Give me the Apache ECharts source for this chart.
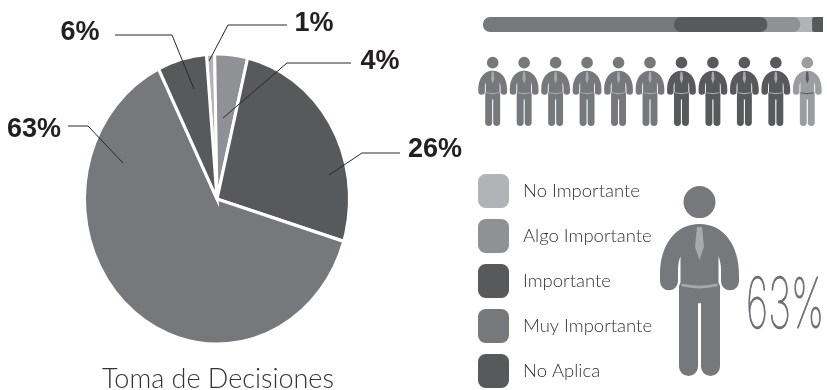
<!DOCTYPE html>
<html>
<head>
<meta charset="utf-8">
<style>html,body{margin:0;padding:0;background:#fff}#c{width:827px;height:390px}</style>
<script src="https://cdn.jsdelivr.net/npm/echarts@6/dist/echarts.min.js"></script>
</head>
<body>
<div id="c"></div>
<script>
// Categories, shared by the pie, the stacked strip and the legend
const categories = ['No Importante', 'Algo Importante', 'Importante', 'Muy Importante', 'No Aplica'];
const categoryColors = ['#b1b3b6', '#909194', '#58595b', '#77787b', '#58595b'];

// Pie shares, clockwise, in percent
const pieValues = [1, 4, 26, 63, 6];
const pieStartDeg = 355.4;

// Widths of the strip along the top, in percent of its length
const stripOrder = ['Muy Importante', 'Importante', 'Algo Importante', 'No Importante', 'No Aplica'];
const stripValues = [56.2, 27.4, 9.7, 3.5, 3.2];

// Row of figures: how many figures are drawn in which category
const figureRow = [['Muy Importante', 6], ['Importante', 4], ['No Importante', 1]];
const headlineValue = '63%';

// Leader lines and label spots of the pie
const leaders = [
  { line: [[287, 25], [228, 25], [209, 61]], text: [314, 24] },
  { line: [[351, 63], [287, 63], [223, 118]], text: [380, 62] },
  { line: [[400, 153], [362, 153], [329, 175]], text: [435, 150] },
  { line: [[68, 126], [88, 126], [123, 163]], text: [34, 130] },
  { line: [[115, 35], [172, 35], [194, 89]], text: [80, 33] }
];

const PERSON = 'path://M39.5 0a16 16 0 1 0 .01 0zM39.5 38C16 38 0 58 0 89L0 95A9 9 0 0 0 18 95L18 84C18 78 19 74 20.5 70L20.5 96L19 100L19 180A9.5 9.5 0 0 0 38 180L38 117L41 117L41 180A9.5 9.5 0 0 0 60 180L60 100L58.5 96L58.5 70C60 74 61 78 61 84L61 95A9 9 0 0 0 79 95L79 89C79 58 63 38 39.5 38z';
const TIE = 'path://M2 0L7 0L9 20L4.5 33L0 20z';
const BELT = 'path://M0 0Q18 3 36 0L36 2Q18 5 0 2z';

const colorOf = name => categoryColors[categories.indexOf(name)];
const cum = [];
pieValues.reduce((a, v, i) => (cum[i] = a + v * 3.6, cum[i]), pieStartDeg);
const rad = d => (d - 90) * Math.PI / 180;

const PX = 217, PY = 199, RX = 132.5, KY = 1.095;

function renderSlice(params, api) {
  const i = params.dataIndex;
  const v = api.value(0);
  const end = cum[i], start = end - v * 3.6;
  const l = leaders[i];
  return {
    type: 'group',
    children: [
      { type: 'sector', x: PX, y: PY, scaleY: KY,
        shape: { cx: 0, cy: 0, r0: 0, r: RX, startAngle: rad(start), endAngle: rad(end), clockwise: true },
        style: { fill: categoryColors[i], stroke: '#fff', lineWidth: 3, lineJoin: 'miter' } },
      { type: 'polyline', z2: 50, shape: { points: l.line }, style: { fill: null, stroke: '#2b2829', lineWidth: 1 } },
      { type: 'text', z2: 50, x: l.text[0], y: l.text[1],
        style: { text: v + '%', fill: '#231f20', font: 'bold 27px "Liberation Sans"', align: 'center', verticalAlign: 'middle' } }
    ]
  };
}

// Stacking of the strip pieces: rounded ends sit on the neighbouring colour
const stripZ = { 'Muy Importante': 5, 'No Importante': 5, 'Algo Importante': 6, 'No Aplica': 6, 'Importante': 7 };

// Each strip segment is one series, so the legend can list it by name
function stripSeries(name, i) {
  const start = stripValues.slice(0, i).reduce((a, b) => a + b, 0);
  const end = start + stripValues[i];
  return {
    name, type: 'custom', xAxisIndex: 0, yAxisIndex: 0, z: stripZ[name],
    itemStyle: { color: colorOf(name) },
    data: [[start, end]],
    renderItem(p, api) {
      const a = api.coord([api.value(0), 0.5]);
      const b = api.coord([api.value(1), 0.5]);
      const h = api.size([0, 1])[1];
      const x0 = (name === 'Algo Importante' || name === 'No Importante') ? a[0] - 10 : a[0];
      const x1 = name === 'Muy Importante' ? b[0] + 10 : (name === 'No Importante' ? b[0] + 3 : b[0]);
      const radii = { 'Muy Importante': [7, 0, 0, 7], 'Importante': 7, 'Algo Importante': [0, 7, 7, 0], 'No Aplica': [2, 0, 0, 2], 'No Importante': 0 };
      return {
        type: 'rect',
        shape: { x: x0, y: a[1] - h / 2, width: x1 - x0, height: h, r: radii[name] },
        style: { fill: colorOf(name) }
      };
    }
  };
}

// One figure layered from a body, a tie and a belt
function figureSeries(xi, yi, points, scale, suffix) {
  const w = 79 * scale, h = 190 * scale;
  const base = { type: 'scatter', xAxisIndex: xi, yAxisIndex: yi, silent: true, animation: false, z: 3 };
  const accent = points.map(p => ({ value: p.value, itemStyle: { color: p.tie, opacity: 1 } }));
  return [
    { ...base, name: 'figure' + suffix, symbol: PERSON, symbolSize: [w, h], data: points },
    { ...base, name: 'tie' + suffix, symbol: TIE, symbolSize: [9 * scale, 33 * scale], symbolOffset: [0, -37.5 * scale], z: 4, data: accent },
    { ...base, name: 'belt' + suffix, symbol: BELT, symbolSize: [36 * scale, 5 * scale], symbolOffset: [0, 5 * scale], z: 4, data: accent }
  ];
}

const rowPoints = [];
figureRow.forEach(([name, n]) => {
  for (let k = 0; k < n; k++) {
    const odd = name === 'No Importante';
    rowPoints.push({ value: [rowPoints.length, 0.5], itemStyle: { color: odd ? '#9c9da0' : colorOf(name), opacity: 1 }, tie: odd ? '#58595b' : '#a7a9ac' });
  }
});

const hidden = { show: false };
const option = {
  animation: false,
  textStyle: { fontFamily: 'Lato' },
  title: { text: 'Toma de Decisiones', left: 213, top: 361, textAlign: 'center',
    textStyle: { fontFamily: 'Lato', fontWeight: 300, fontSize: 27, color: '#333335' } },
  legend: {
    orient: 'vertical', left: 478, top: 174, height: 216, padding: 0, itemWidth: 31, itemHeight: 34, itemGap: 11,
    icon: 'roundRect', data: categories, selectedMode: false,
    textStyle: { fontFamily: 'Lato', fontWeight: 300, fontSize: 18.5, color: '#333335', padding: [0, 0, 0, 9] }
  },
  grid: [
    { left: 483, top: 17, width: 340, height: 15 },
    { left: 492.7, top: 61.4, width: 314.6, height: 60 },
    { left: 649.5, top: 181, width: 100, height: 200 }
  ],
  xAxis: [
    { type: 'value', min: 0, max: 100, gridIndex: 0, ...hidden },
    { type: 'value', min: 0, max: 10, gridIndex: 1, ...hidden },
    { type: 'value', min: 0, max: 1, gridIndex: 2, ...hidden }
  ],
  yAxis: [
    { type: 'value', min: 0, max: 1, gridIndex: 0, ...hidden },
    { type: 'value', min: 0, max: 1, gridIndex: 1, ...hidden },
    { type: 'value', min: 0, max: 1, gridIndex: 2, ...hidden }
  ],
  graphic: [{
    type: 'text', x: 746, y: 272, scaleX: 0.56, silent: true,
    style: { text: headlineValue, fill: '#6d6e71', stroke: '#6d6e71', lineWidth: 1.2, font: '100 70px Inter' }
  }],
  series: [
    { type: 'custom', name: 'Toma de Decisiones', coordinateSystem: 'none', renderItem: renderSlice, data: pieValues.map(v => [v]), z: 2 },
    ...stripOrder.map(stripSeries),
    ...figureSeries(1, 1, rowPoints, 0.364, 'Row'),
    ...figureSeries(2, 2, [{ value: [0.5, 0.5], itemStyle: { color: colorOf('Muy Importante'), opacity: 1 }, tie: '#a7a9ac' }], 1, 'Large')
  ]
};

const chart = echarts.init(document.getElementById('c'), null, { renderer: 'canvas' });
chart.setOption(option);
</script>
</body>
</html>
